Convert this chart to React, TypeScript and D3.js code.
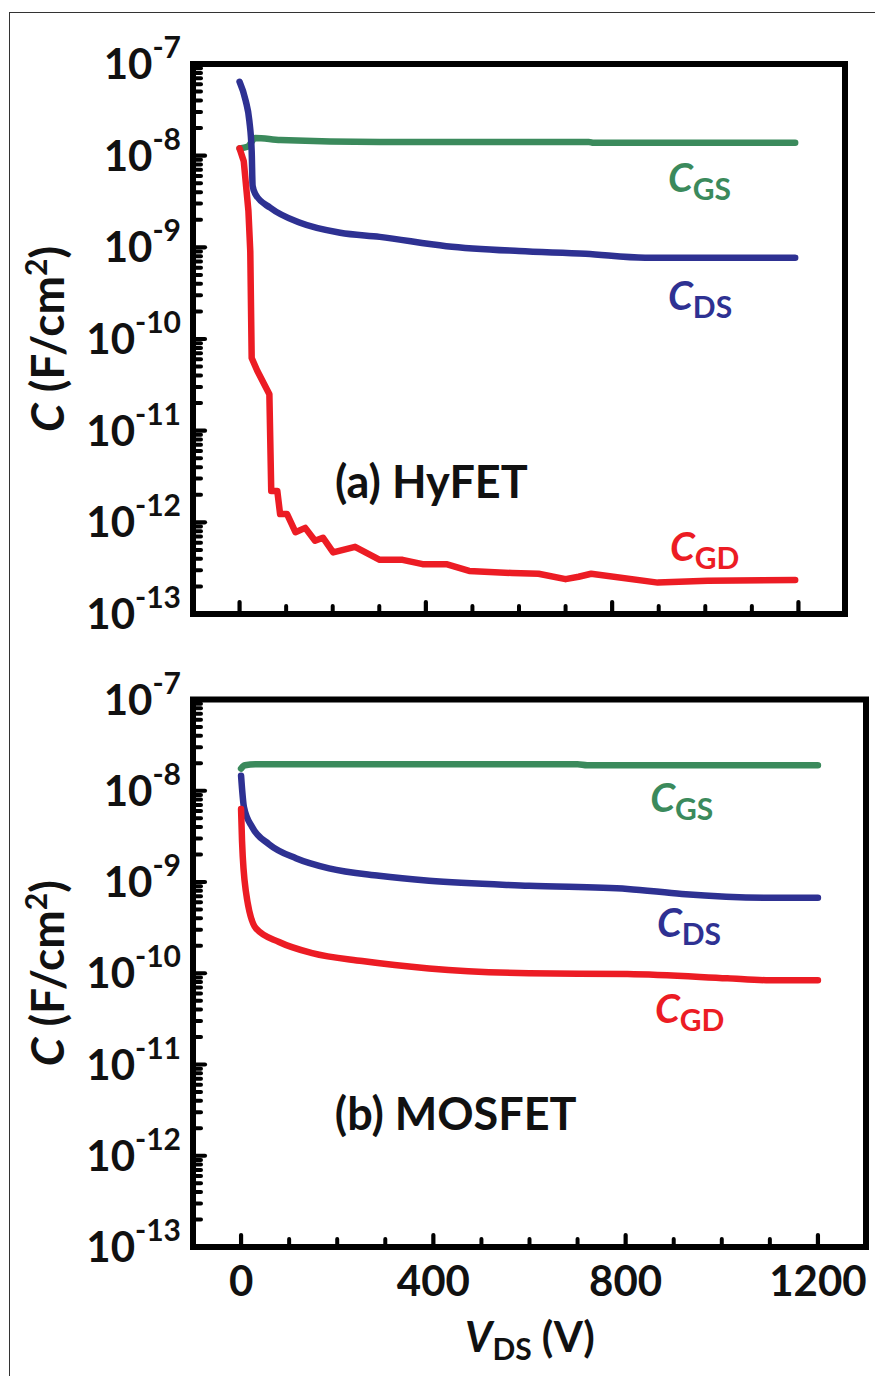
import React from 'react'
import * as d3 from 'd3'

const FONT = "Lato, 'Open Sans', sans-serif"
const GREEN = '#3b8a5c'
const BLUE = '#2e3192'
const RED = '#ec1c24'

// (a) HyFET, V_DS in volts, C in F/cm^2
const hyGsV = [0, 17, 34, 88, 301, 750, 760, 1193]
const hyGs = [1.2e-8, 1.25e-8, 1.56e-8, 1.48e-8, 1.41e-8, 1.41e-8, 1.38e-8, 1.38e-8]
const hyDsV = [0, 13, 21, 26, 28, 34, 66, 130, 216, 301, 444, 600, 743, 871, 1193]
const hyDs = [6.4e-8, 4.0e-8, 2.4e-8, 1.12e-8, 4.7e-9, 3.8e-9, 2.7e-9, 1.85e-9, 1.44e-9, 1.3e-9, 1.03e-9, 9.1e-10, 8.5e-10, 7.7e-10, 7.7e-10]
const hyGdV = [0, 9, 19, 23, 26, 38, 64, 68, 81, 87, 102, 120, 141, 162, 179, 201, 248, 301, 350, 393, 444, 493, 585, 642, 700, 728, 755, 898, 1005, 1193]
const hyGd = [1.2e-8, 8.7e-9, 2.5e-9, 9e-10, 6.2e-11, 4.5e-11, 2.5e-11, 2.2e-12, 2.2e-12, 1.23e-12, 1.23e-12, 7.8e-13, 8.7e-13, 6.3e-13, 6.8e-13, 4.7e-13, 5.4e-13, 3.9e-13, 3.9e-13, 3.5e-13, 3.5e-13, 2.95e-13, 2.8e-13, 2.75e-13, 2.4e-13, 2.55e-13, 2.75e-13, 2.2e-13, 2.3e-13, 2.35e-13]

// (b) MOSFET
const moGsV = [0, 8, 30, 700, 720, 1200]
const moGs = [1.75e-8, 1.9e-8, 1.95e-8, 1.95e-8, 1.9e-8, 1.9e-8]
const moDsV = [0, 6, 23, 58, 114, 183, 287, 391, 599, 804, 917, 1105, 1200]
const moDs = [1.46e-8, 6.6e-9, 4.0e-9, 2.6e-9, 1.82e-9, 1.41e-9, 1.17e-9, 1.03e-9, 9.1e-10, 8.4e-10, 7.4e-10, 6.7e-10, 6.7e-10]
const moGdV = [0, 2, 10, 31, 79, 148, 252, 391, 599, 804, 1012, 1092, 1200]
const moGd = [6.3e-9, 2.8e-9, 7.9e-10, 3.1e-10, 2.2e-10, 1.66e-10, 1.36e-10, 1.13e-10, 1.0e-10, 9.8e-11, 8.8e-11, 8.4e-11, 8.4e-11]

const decades = [-13, -12, -11, -10, -9, -8, -7]
const xTicks = [0, 100, 200, 300, 400, 500, 600, 700, 800, 900, 1000, 1100, 1200]
const xTickLabels = [0, 400, 800, 1200]

// annotation anchors: [V, log10 C]
const hyLabelPos = { gs: [920, -8.396], ds: [920, -9.684], gd: [924, -12.422], title: [205, -11.735] }
const moLabelPos = { gs: [851, -8.233], ds: [865, -9.603], gd: [861, -10.545], title: [195, -11.718] }

const zip = (xs, ys) => xs.map((v, i) => [v, ys[i]])

const CLabel = ({ x, y, sub, color }) => (
  <text x={x} y={y} fill={color} fontFamily={FONT} fontWeight="bold" fontSize={40}>
    <tspan fontStyle="italic">C</tspan>
    <tspan fontSize={30} dy={8}>{sub}</tspan>
  </text>
)

const Panel = ({ x0, x1, y0, y1, series, pos, title, showX }) => {
  const x = d3.scaleLinear().domain([-100, 1300]).range([x0, x1])
  const y = d3.scaleLog().domain([1e-13, 1e-7]).range([y1, y0])
  const minor = []
  decades.slice(0, -1).forEach(e => {
    for (let m = 2; m <= 9; m++) minor.push(m * Math.pow(10, e))
  })
  const yMid = (y0 + y1) / 2

  return (
    <g>
      {series.map((s, i) => {
        const line = d3.line().x(d => x(d[0])).y(d => y(d[1])).curve(s.curve)
        return (
          <path key={i} d={line(s.data)} fill="none" stroke={s.color} strokeWidth={6.5}
            strokeLinecap="round" strokeLinejoin="round" />
        )
      })}
      <rect x={x0} y={y0} width={x1 - x0} height={y1 - y0} fill="none" stroke="#000" strokeWidth={6} />
      {minor.map((v, i) => (
        <line key={'m' + i} x1={x0} x2={x0 + 8} y1={y(v)} y2={y(v)} stroke="#000" strokeWidth={4} strokeLinecap="round" />
      ))}
      {decades.map(e => (
        <g key={'d' + e}>
          <line x1={x0} x2={x0 + 12} y1={y(Math.pow(10, e))} y2={y(Math.pow(10, e))} stroke="#000" strokeWidth={4.2} strokeLinecap="round" />
          <text x={181} y={y(Math.pow(10, e)) + 15} textAnchor="end" fontFamily={FONT} fontWeight="bold" fontSize={42} fill="#111">
            10<tspan fontSize={30} dy={-21}>{e}</tspan>
          </text>
        </g>
      ))}
      {xTicks.map(v => {
        const major = xTickLabels.includes(v)
        return (
          <line key={'x' + v} x1={x(v)} x2={x(v)} y1={y1} y2={y1 - (major ? 12 : 8)} stroke="#000"
            strokeWidth={major ? 4.2 : 4} strokeLinecap="round" />
        )
      })}
      {showX && xTickLabels.map(v => (
        <text key={'xl' + v} x={x(v)} y={y1 + 49} textAnchor="middle" fontFamily={FONT} fontWeight="bold" fontSize={42} fill="#111">{v}</text>
      ))}
      <text transform={`translate(64,${yMid}) rotate(-90)`} textAnchor="middle" fontFamily={FONT} fontWeight="bold" fontSize={46} fill="#111">
        <tspan fontStyle="italic">C</tspan> (F/cm<tspan fontSize={30} dy={-17}>2</tspan><tspan dy={17}>)</tspan>
      </text>
      <CLabel x={x(pos.gs[0])} y={y(Math.pow(10, pos.gs[1]))} sub="GS" color={GREEN} />
      <CLabel x={x(pos.ds[0])} y={y(Math.pow(10, pos.ds[1]))} sub="DS" color={BLUE} />
      <CLabel x={x(pos.gd[0])} y={y(Math.pow(10, pos.gd[1]))} sub="GD" color={RED} />
      <text x={x(pos.title[0])} y={y(Math.pow(10, pos.title[1]))} fontFamily={FONT} fontWeight="bold" fontSize={45} fill="#111">{title}</text>
    </g>
  )
}

export default function App() {
  const hySeries = [
    { data: zip(hyGsV, hyGs), color: GREEN, curve: d3.curveMonotoneX },
    { data: zip(hyDsV, hyDs), color: BLUE, curve: d3.curveMonotoneX },
    { data: zip(hyGdV, hyGd), color: RED, curve: d3.curveLinear },
  ]
  const moSeries = [
    { data: zip(moGsV, moGs), color: GREEN, curve: d3.curveMonotoneX },
    { data: zip(moDsV, moDs), color: BLUE, curve: d3.curveMonotoneX },
    { data: zip(moGdV, moGd), color: RED, curve: d3.curveMonotoneX },
  ]
  return (
    <svg width={875} height={1376} style={{ position: 'absolute', left: 0, top: 0, background: '#fff' }}>
      <rect x={9.5} y={12.5} width={880} height={1380} fill="none" stroke="#333" strokeWidth={1} />
      <Panel x0={193} x1={845} y0={64} y1={614} series={hySeries} pos={hyLabelPos} title="(a) HyFET" showX={false} />
      <Panel x0={193} x1={866} y0={699.5} y1={1247} series={moSeries} pos={moLabelPos} title="(b) MOSFET" showX={true} />
      <text x={530} y={1352} textAnchor="middle" fontFamily={FONT} fontWeight="bold" fontSize={42} fill="#111">
        <tspan fontStyle="italic">V</tspan><tspan fontSize={30} dy={8}>DS</tspan><tspan dy={-8}> (V)</tspan>
      </text>
    </svg>
  )
}
